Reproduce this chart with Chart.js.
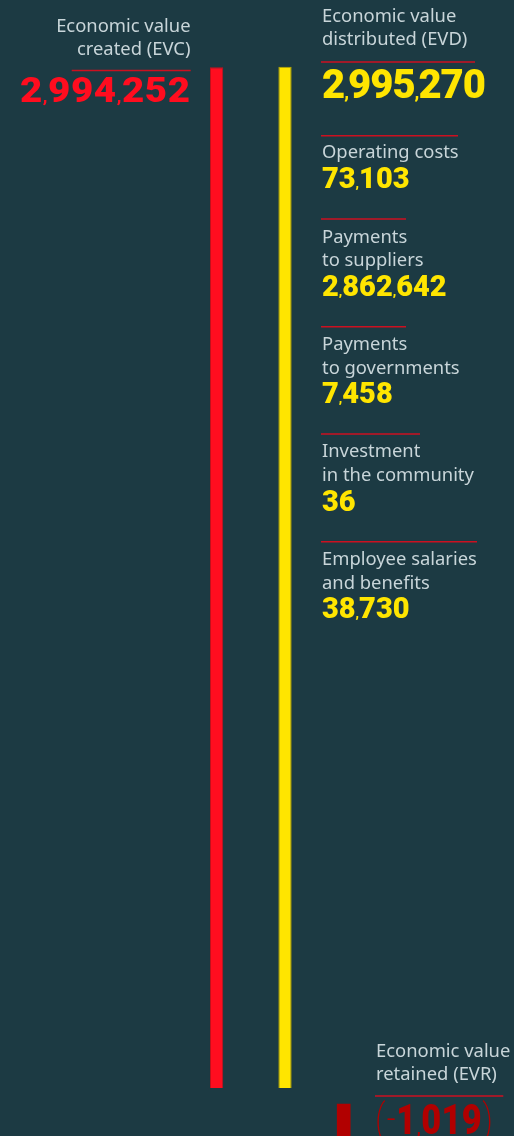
<!DOCTYPE html>
<html>
<head>
<meta charset="utf-8">
<script src="https://cdn.jsdelivr.net/npm/chart.js@4/dist/chart.umd.min.js"></script>
<style>
  html, body { margin: 0; padding: 0; background: #1c3a43; }
</style>
</head>
<body>
<canvas id="myChart" width="514" height="1136"></canvas>
<script>
// data
const barKeys = ["EVC", "EVD", "EVR"];
const barTitles = [
     ["Economic value", "created (EVC)"],
     ["Economic value", "distributed (EVD)"],
     ["Economic value", "retained (EVR)"]
];
const barValues = [2994252, 2995270, -1019];

const itemTitles = [
     ["Operating costs"],
     ["Payments", "to suppliers"],
     ["Payments", "to governments"],
     ["Investment", "in the community"],
     ["Employee salaries", "and benefits"]
];
const itemValues = [73103, 2862642, 7458, 36, 38730];

// colours
const BG = "#1c3a43";
const RED = "#ff0d1f";
const YELLOW = "#ffe500";
const DARKRED = "#b10000";
const RULE = "#cc1020";
const LABEL = "#c8d5d9";
const LABEL_FONT = "18.4px 'Noto Sans'";
const NUM_WEIGHT = "900";

function fmt(v) {
     return Math.abs(v).toLocaleString("en-US");
}

// splits a number into glyphs, commas and minus drawn small
function numParts(str, size) {
     let parts = [];
     for (let ch of str) {
          if (ch === ",") parts.push({ ch: ",", font: NUM_WEIGHT + " " + Math.round(size * 0.45) + "px Roboto", dy: 0 });
          else if (ch === "(" || ch === ")") parts.push({ ch: ch, font: "200 " + size + "px Roboto", dy: 0 });
          else if (ch === "-") parts.push({ ch: "\u2212", font: "400 " + Math.round(size * 0.5) + "px Roboto", dy: -7.5 });
          else parts.push({ ch: ch, font: NUM_WEIGHT + " " + size + "px Roboto", dy: 0 });
     }
     return parts;
}

function drawNum(ctx, str, x, y, size, color, align, track, sx) {
     sx = sx || 1;
     let parts = numParts(str, size);
     let total = 0;
     parts.forEach(function (p) {
          ctx.font = p.font;
          p.w = ctx.measureText(p.ch).width;
          total += p.w + track;
     });
     total -= track;
     let startX = align === "right" ? x - total * sx : x;
     ctx.save();
     ctx.translate(startX, y);
     ctx.scale(sx, 1);
     ctx.fillStyle = color;
     ctx.textAlign = "left";
     let cx = 0;
     parts.forEach(function (p) {
          ctx.font = p.font;
          ctx.fillText(p.ch, cx, p.dy);
          cx += p.w + track;
     });
     ctx.restore();
}

function drawLabel(ctx, lines, x, y, align) {
     ctx.font = LABEL_FONT;
     ctx.fillStyle = LABEL;
     ctx.textAlign = align;
     for (let i = 0; i < lines.length; i++) {
          ctx.fillText(lines[i], x, y + i * 23.5);
     }
}

function drawRule(ctx, x1, x2, y) {
     ctx.strokeStyle = RULE;
     ctx.lineWidth = 1.5;
     ctx.beginPath();
     ctx.moveTo(x1, y);
     ctx.lineTo(x2, y);
     ctx.stroke();
}

const bgPlugin = {
     id: "bg",
     beforeDraw(chart) {
          const ctx = chart.ctx;
          ctx.save();
          ctx.fillStyle = BG;
          ctx.fillRect(0, 0, chart.width, chart.height);
          ctx.restore();
     }
};

// rule y, label baseline, number baseline, rule end
const itemLayout = [
     [135.7, 158.3, 188.3, 458],
     [219, 242.7, 295.7, 406],
     [326.7, 350, 403.3, 406],
     [434, 457.3, 511, 420],
     [541.7, 565, 618.3, 477]
];

const textPlugin = {
     id: "texts",
     afterDraw(chart) {
          const ctx = chart.ctx;
          ctx.save();
          ctx.textBaseline = "alphabetic";

          // EVC
          drawLabel(ctx, barTitles[0], 190.5, 31.7, "right");
          drawRule(ctx, 71.7, 190.7, 70.5);
          drawNum(ctx, fmt(barValues[0]), 190, 101.7, 35, RED, "right", 0.5, 1.1);

          // EVD
          drawLabel(ctx, barTitles[1], 322, 21.7, "left");
          drawRule(ctx, 321, 475, 62);
          drawNum(ctx, fmt(barValues[1]), 322, 98.3, 40, YELLOW, "left", -1);

          // items
          for (let i = 0; i < itemTitles.length; i++) {
               let l = itemLayout[i];
               drawRule(ctx, 321, l[3], l[0]);
               drawLabel(ctx, itemTitles[i], 322, l[1], "left");
               drawNum(ctx, fmt(itemValues[i]), 322, l[2], 29, YELLOW, "left", 0);
          }

          // EVR
          drawLabel(ctx, barTitles[2], 376, 1056.7, "left");
          drawRule(ctx, 375, 503.3, 1096);
          drawNum(ctx, "(-" + fmt(barValues[2]) + ")", 375, 1134, 43, DARKRED, "left", 0.5, 0.8);

          ctx.restore();
     }
};

const ctx = document.getElementById("myChart").getContext("2d");

// EVC and EVD share the first slot side by side, EVR sits alone in the second
var chart = new Chart(ctx, {
     type: "bar",
     data: {
          labels: ["EVC / EVD", "EVR"],
          datasets: [
               {
                    label: barKeys[0],
                    data: [barValues[0], null],
                    backgroundColor: RED,
                    borderColor: "#c8101c",
                    borderWidth: 1,
                    yAxisID: "y"
               },
               {
                    label: barKeys[1],
                    data: [barValues[1], null],
                    backgroundColor: YELLOW,
                    borderColor: "#b8a600",
                    borderWidth: 1,
                    yAxisID: "y"
               },
               {
                    label: barKeys[2],
                    data: [null, barValues[2]],
                    backgroundColor: DARKRED,
                    barThickness: 13,
                    grouped: false,
                    yAxisID: "y2"
               }
          ]
     },
     options: {
          responsive: false,
          animation: false,
          categoryPercentage: 1.4725,
          barPercentage: 0.1945,
          layout: { padding: { left: 204.35, right: 123.85, top: 0, bottom: 0 } },
          plugins: { legend: { display: false }, tooltip: { enabled: false } },
          scales: {
               x: { display: false, offset: true },
               // zero sits at y=1088, tops near y=67
               y: { display: false, min: -140800, max: 3191300 },
               // EVR drops from y=1104 to the bottom edge
               y2: { display: false, min: -1019, max: 35156 }
          }
     },
     plugins: [bgPlugin, textPlugin]
});
</script>
</body>
</html>
